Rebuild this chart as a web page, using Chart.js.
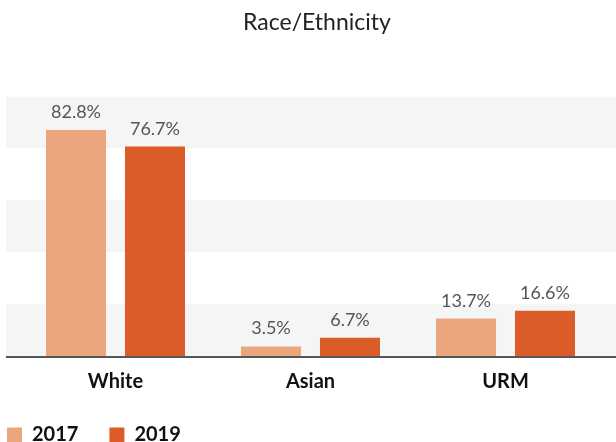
<!DOCTYPE html>
<html>
<head>
<meta charset="utf-8">
<title>Race/Ethnicity</title>
<script src="https://cdn.jsdelivr.net/npm/chart.js@4"></script>
<style>
  html, body { margin: 0; padding: 0; background: #fff; overflow: hidden; }
  #wrap { width: 616px; height: 455px; }
</style>
</head>
<body>
<div id="wrap"><canvas id="chart" width="616" height="455"></canvas></div>
<script>
  const categories = ['White', 'Asian', 'URM'];
  const years = ['2017', '2019'];
  const values2017 = [82.8, 3.5, 13.7];
  const values2019 = [76.7, 6.7, 16.6];
  const bandTicks = [0, 19, 38, 57, 76, 95];

  const colors = { y2017: '#EBA67E', y2019: '#DB5C28', band: '#F4F6F5', axis: '#555555' };

  // alternating background bands, full width like the original
  const bandsPlugin = {
    id: 'bands',
    beforeDatasetsDraw(chart) {
      const { ctx, chartArea, scales } = chart;
      const left = chartArea.left - 12;
      const right = chart.width;
      ctx.save();
      ctx.fillStyle = colors.band;
      for (let i = 0; i < bandTicks.length - 1; i += 2) {
        const yBottom = scales.y.getPixelForValue(bandTicks[i]);
        const yTop = scales.y.getPixelForValue(bandTicks[i + 1]);
        ctx.fillRect(left, yTop, right - left, yBottom - yTop);
      }
      ctx.restore();
    },
    afterDatasetsDraw(chart) {
      const { ctx, chartArea } = chart;
      ctx.save();
      ctx.strokeStyle = colors.axis;
      ctx.lineWidth = 2;
      ctx.beginPath();
      ctx.moveTo(chartArea.left - 12, chartArea.bottom + 1);
      ctx.lineTo(chart.width, chartArea.bottom + 1);
      ctx.stroke();
      ctx.restore();
    }
  };

  const valueLabels = {
    id: 'valueLabels',
    afterDatasetsDraw(chart) {
      const { ctx } = chart;
      ctx.save();
      ctx.font = '18px Lato';
      ctx.fillStyle = '#555';
      ctx.textAlign = 'center';
      ctx.textBaseline = 'alphabetic';
      chart.data.datasets.forEach((ds, di) => {
        chart.getDatasetMeta(di).data.forEach((bar, i) => {
          ctx.fillText(ds.data[i].toFixed(1) + '%', bar.x, bar.y - 12);
        });
      });
      ctx.restore();
    }
  };

  const hiddenAxis = (width, position) => ({
    type: 'linear',
    position,
    min: bandTicks[0],
    max: bandTicks[bandTicks.length - 1],
    grid: { display: false, drawTicks: false },
    border: { display: false },
    ticks: { display: false },
    afterFit(scale) { scale.width = width; }
  });

  new Chart(document.getElementById('chart'), {
    type: 'bar',
    data: {
      labels: categories,
      datasets: [
        { label: years[0], data: values2017, backgroundColor: colors.y2017 },
        { label: years[1], data: values2019, backgroundColor: colors.y2019 }
      ]
    },
    options: {
      responsive: false,
      animation: false,
      categoryPercentage: 0.81,
      barPercentage: 0.76,
      layout: { padding: { left: -24, right: -42, top: 0, bottom: 0 } },
      plugins: {
        title: {
          display: true,
          text: 'Race/Ethnicity',
          color: '#222',
          font: { family: 'Lato', size: 23, weight: 'normal' },
          padding: { top: 9, bottom: 60 }
        },
        legend: {
          position: 'bottom',
          align: 'start',
          labels: {
            boxWidth: 15,
            boxHeight: 15,
            padding: 31,
            color: '#111',
            font: { family: 'Lato', size: 20, weight: 'bold' }
          }
        },
        tooltip: { enabled: false }
      },
      scales: {
        x: {
          grid: { display: false, drawTicks: false },
          border: { display: false },
          ticks: {
            padding: 14,
            color: '#111',
            font: { family: 'Lato', size: 20, weight: 'bold' }
          },
          afterFit(scale) { scale.height = 38; }
        },
        y: hiddenAxis(42, 'left'),
        yRight: hiddenAxis(55, 'right')
      }
    },
    plugins: [bandsPlugin, valueLabels]
  });
</script>
</body>
</html>
